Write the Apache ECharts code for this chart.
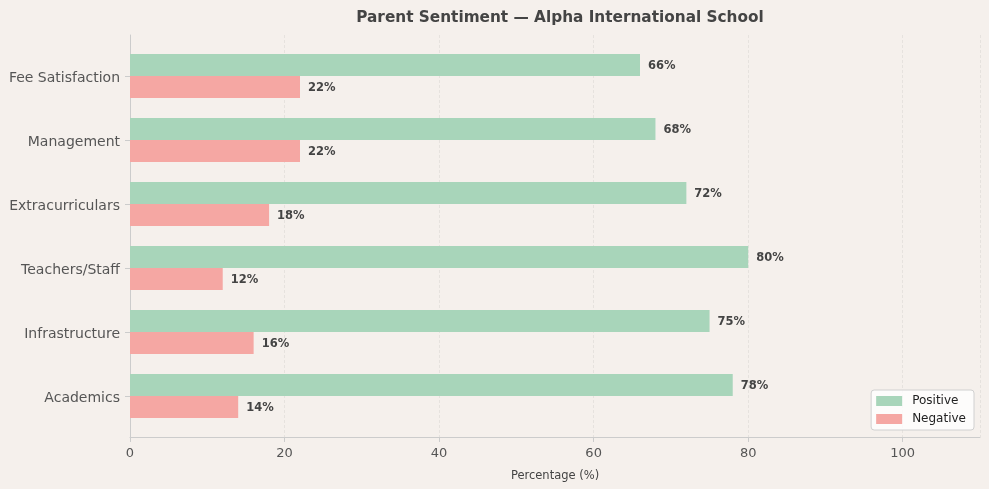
<!DOCTYPE html>
<html>
<head>
<meta charset="utf-8">
<script src="https://cdn.jsdelivr.net/npm/echarts@6/dist/echarts.min.js"></script>
<style>
  html, body { margin: 0; padding: 0; background: #f5f0ec; }
  #chart { width: 989px; height: 489px; }
</style>
</head>
<body>
<div id="chart"></div>
<script>
var categories = ['Academics', 'Infrastructure', 'Teachers/Staff', 'Extracurriculars', 'Management', 'Fee Satisfaction'];
var positiveValues = [78, 75, 80, 72, 68, 66];
var negativeValues = [14, 16, 12, 18, 22, 22];
var xTicks = { min: 0, max: 110, interval: 20 };

var font = 'DejaVu Sans';
var chart = echarts.init(document.getElementById('chart'));

var barLabel = {
  show: true,
  position: 'right',
  distance: 8,
  offset: [0, 1],
  formatter: '{c}%',
  color: '#444',
  fontFamily: font,
  fontWeight: 'bold',
  fontSize: 11.5
};

chart.setOption({
  backgroundColor: '#f5f0ec',
  animation: false,
  title: {
    text: 'Parent Sentiment \u2014 Alpha International School',
    left: 555,
    textAlign: 'center',
    top: 6,
    textStyle: { fontFamily: font, fontSize: 15.3, fontWeight: 'bold', color: '#444' }
  },
  legend: {
    orient: 'vertical',
    right: 15,
    bottom: 59,
    itemWidth: 26,
    itemHeight: 10,
    itemGap: 6,
    icon: 'rect',
    padding: [5, 8, 5, 5],
    backgroundColor: 'rgba(255,255,255,0.8)',
    borderColor: '#d0d0d0',
    borderWidth: 1,
    borderRadius: 3,
    textStyle: { fontFamily: font, fontSize: 12, color: '#222', padding: [0, 0, 0, 5] },
    data: ['Positive', 'Negative']
  },
  grid: [
    // frame grid: spines, ticks, split lines
    { left: 130, right: 9, top: 35, bottom: 52, outerBoundsMode: 'none' },
    // bar grid
    { left: 130, right: 9, top: 44, bottom: 61, outerBoundsMode: 'none' }
  ],
  xAxis: [
    {
      gridIndex: 0,
      type: 'value',
      min: xTicks.min,
      max: xTicks.max,
      interval: xTicks.interval,
      name: 'Percentage (%)',
      nameLocation: 'middle',
      nameGap: 33,
      nameTextStyle: { fontFamily: font, fontSize: 11.5, color: '#444' },
      axisLine: { show: true, lineStyle: { color: '#ccc', width: 1 } },
      axisTick: { show: true, length: 5, lineStyle: { color: '#ccc' } },
      axisLabel: { fontFamily: font, fontSize: 13, color: '#555', margin: 10, showMaxLabel: false },
      splitLine: { show: true, lineStyle: { color: '#e2dedb', type: [3, 2], width: 0.8 } }
    },
    {
      gridIndex: 1,
      type: 'value',
      min: xTicks.min,
      max: xTicks.max,
      show: false
    }
  ],
  yAxis: [
    {
      gridIndex: 0,
      type: 'value',
      min: 0,
      max: 1,
      axisLine: { show: true, lineStyle: { color: '#ccc', width: 1 } },
      axisTick: { show: false },
      axisLabel: { show: false },
      splitLine: { show: false }
    },
    {
      gridIndex: 1,
      type: 'category',
      data: categories,
      axisLine: { show: true, lineStyle: { color: '#ccc', width: 1 } },
      axisTick: { show: true, alignWithLabel: true, length: 5, lineStyle: { color: '#ccc' } },
      axisLabel: {
        margin: 10,
        formatter: '{c|{value}}',
        rich: {
          c: { fontFamily: font, fontSize: 14, color: '#555', padding: [5, 0, 0, 0] }
        }
      },
      splitLine: { show: false }
    }
  ],
  series: [
    {
      name: 'Positive',
      type: 'bar',
      xAxisIndex: 1,
      yAxisIndex: 1,
      data: positiveValues,
      barWidth: 22,
      barGap: '0%',
      itemStyle: { color: '#a8d5ba' },
      label: barLabel
    },
    {
      name: 'Negative',
      type: 'bar',
      xAxisIndex: 1,
      yAxisIndex: 1,
      data: negativeValues,
      barWidth: 22,
      barGap: '0%',
      itemStyle: { color: '#f5a7a3' },
      label: barLabel
    }
  ]
});
</script>
</body>
</html>
